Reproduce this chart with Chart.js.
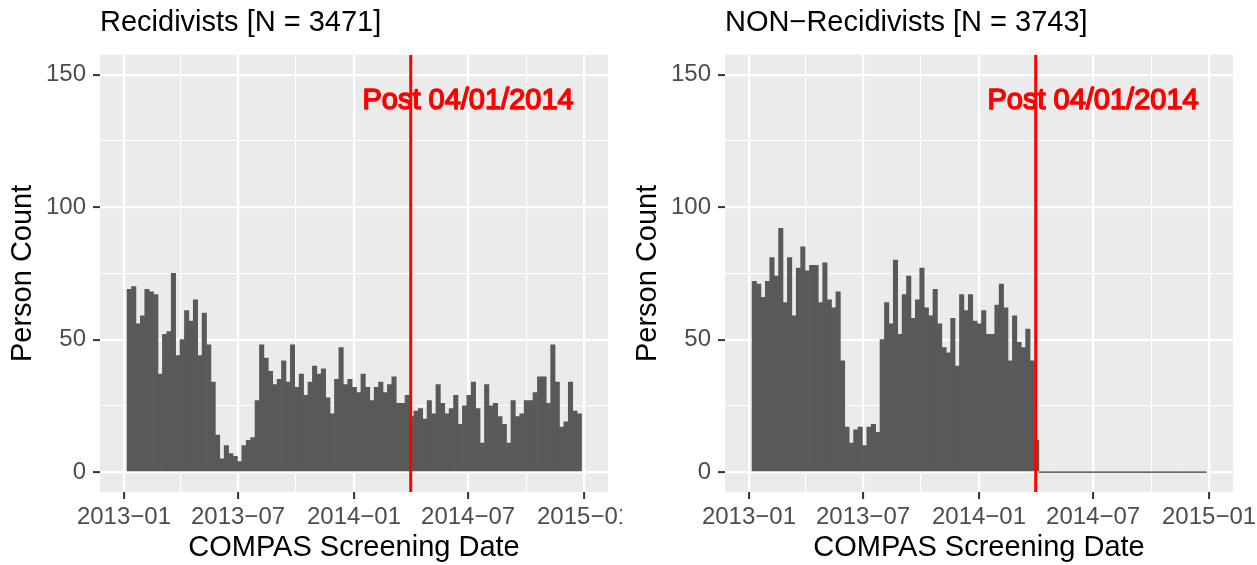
<!DOCTYPE html>
<html>
<head>
<meta charset="utf-8">
<script src="https://cdn.jsdelivr.net/npm/chart.js@4.4.0/dist/chart.umd.min.js"></script>
<style>
  html, body { margin: 0; padding: 0; background: #fff; }
  body { width: 1257px; height: 565px; position: relative; overflow: hidden; }
  .cell { position: absolute; top: 0; height: 565px; }
</style>
</head>
<body>
<div class="cell" style="left:0;width:622px"><canvas id="recidChart"></canvas></div>
<div class="cell" style="left:625px;width:632px"><canvas id="nonRecidChart"></canvas></div>
<script>
// Bins semanales (7 días), días contados desde 2013-01-01
const binStartDay = 5;
const binDays = 7;

// Conteos por semana: reincidentes
const recidCounts = [
  69, 70, 56, 59, 69, 68, 67, 37, 52, 53, 75, 44, 50, 61, 57, 65, 44, 60, 48, 34,
  14, 5, 10, 7, 6, 4, 10, 12, 13, 27, 48, 43, 38, 33, 35, 42, 34, 48, 32, 37,
  29, 34, 40, 37, 39, 28, 22, 35, 47, 33, 35, 32, 30, 37, 32, 27, 32, 34, 30, 33,
  36, 26, 26, 29, 21, 23, 24, 20, 27, 22, 33, 26, 22, 24, 29, 18, 25, 29, 34, 24,
  11, 33, 25, 26, 21, 18, 11, 27, 21, 22, 27, 27, 30, 36, 36, 26, 48, 34, 17, 19,
  34, 23, 22
];

// Conteos por semana: no reincidentes
const nonRecidCounts = [
  72, 71, 66, 72, 81, 74, 92, 64, 81, 59, 77, 85, 76, 78, 78, 64, 79, 65, 62, 68,
  42, 17, 11, 16, 17, 10, 17, 18, 15, 50, 64, 56, 80, 52, 67, 74, 58, 65, 77, 62,
  59, 69, 56, 47, 45, 58, 40, 67, 61, 67, 57, 56, 61, 52, 52, 63, 71, 62, 42, 59,
  49, 47, 54, 42, 12, 0, 0, 0, 0, 0, 0, 0, 0, 0, 0, 0, 0, 0, 0, 0,
  0, 0, 0, 0, 0, 0, 0, 0, 0, 0, 0, 0, 0, 0, 0, 0, 0, 0, 0, 0,
  0, 0, 0
];

// Ejes
const xTickDays = [0, 181, 365, 546, 730];
const xTickLabels = ['2013\u221201', '2013\u221207', '2014\u221201', '2014\u221207', '2015\u221201'];
const xMinorDays = [90, 273, 455, 638];
const yTicks = [0, 50, 100, 150];
const yMinorTicks = [25, 75, 125];

// Fecha de corte (2014-04-01) y su etiqueta
const cutoffDay = 455;
const noteDay = 546;
const noteValue = 140;
const noteText = 'Post 04/01/2014';

const colors = {
  bar: '#595959',
  panel: '#EBEBEB',
  grid: '#FFFFFF',
  tick: '#333333',
  tickLabel: '#4D4D4D',
  cutoff: '#FF0000',
};

Chart.defaults.font.family = "'Liberation Sans', Arial, Helvetica, sans-serif";
Chart.defaults.color = '#000';

const majorX = new Set(xTickDays);
const majorY = new Set(yTicks);
const isMajor = (set, c) => !!(c.tick && set.has(c.tick.value));

// Fondo gris del panel
const panelBackground = {
  id: 'panelBackground',
  beforeDraw(chart) {
    const { ctx, chartArea: a } = chart;
    ctx.save();
    ctx.fillStyle = colors.panel;
    ctx.fillRect(a.left, a.top, a.right - a.left, a.bottom - a.top);
    ctx.restore();
  }
};

// Texto rojo "Post 04/01/2014"
const cutoffNote = {
  id: 'cutoffNote',
  afterDatasetsDraw(chart) {
    const { ctx, scales } = chart;
    const x = scales.x.getPixelForValue(noteDay);
    const y = scales.y.getPixelForValue(noteValue);
    ctx.save();
    ctx.font = "29px 'Liberation Sans', Arial, sans-serif";
    ctx.textAlign = 'center';
    ctx.textBaseline = 'middle';
    ctx.fillStyle = colors.cutoff;
    ctx.strokeStyle = colors.cutoff;
    ctx.lineWidth = 1.5;
    ctx.lineJoin = 'round';
    ctx.fillText(noteText, x, y);
    ctx.strokeText(noteText, x, y);
    ctx.restore();
  }
};

function zeroSegments(counts) {
  const pts = [];
  counts.forEach((c, i) => {
    const s = binStartDay + i * binDays;
    if (c === 0) {
      pts.push({ x: s, y: 0 }, { x: s + binDays, y: 0 });
    } else {
      pts.push({ x: s + binDays / 2, y: null });
    }
  });
  return pts;
}

function createPanel(canvasId, title, counts, rightPad) {
  const ctx = document.getElementById(canvasId);
  return new Chart(ctx, {
    type: 'bar',
    data: {
      datasets: [
        {
          type: 'line',
          data: [{ x: cutoffDay, y: -7.5 }, { x: cutoffDay, y: 157.5 }],
          borderColor: colors.cutoff,
          borderWidth: 3,
          pointRadius: 0,
          order: 0,
        },
        {
          type: 'line',
          data: zeroSegments(counts),
          borderColor: '#555555',
          borderWidth: 1.2,
          pointRadius: 0,
          spanGaps: false,
          order: 1,
        },
        {
          type: 'bar',
          data: counts.map((c, i) => ({ x: binStartDay + i * binDays + binDays / 2, y: c })),
          backgroundColor: colors.bar,
          borderWidth: 0,
          barPercentage: 1,
          categoryPercentage: 1,
          order: 2,
        }
      ]
    },
    options: {
      responsive: true,
      maintainAspectRatio: false,
      animation: false,
      layout: { padding: { left: 0, right: rightPad, top: 0, bottom: 0 } },
      plugins: {
        legend: { display: false },
        tooltip: { enabled: false },
        title: {
          display: true,
          text: title,
          align: 'start',
          fullSize: false,
          color: '#000',
          font: { size: 29, weight: 'normal', lineHeight: 1.2 },
          padding: { top: 6, bottom: 14 },
        }
      },
      scales: {
        x: {
          type: 'linear',
          offset: false,
          min: -38,
          max: 768,
          afterBuildTicks: (scale) => {
            scale.ticks = [...xTickDays, ...xMinorDays].sort((a, b) => a - b).map(v => ({ value: v }));
          },
          afterFit: (scale) => {
            scale.height = 73;
            scale.paddingLeft = 0;
            scale.paddingRight = 0;
          },
          ticks: {
            autoSkip: false,
            maxRotation: 0,
            padding: 4,
            color: colors.tickLabel,
            font: { size: 24 },
            callback: (v) => majorX.has(v) ? xTickLabels[xTickDays.indexOf(v)] : '',
          },
          grid: {
            offset: false,
            color: colors.grid,
            lineWidth: (c) => isMajor(majorX, c) ? 2.2 : 1.1,
            tickColor: (c) => isMajor(majorX, c) ? colors.tick : 'rgba(0,0,0,0)',
            tickWidth: 2,
            tickLength: 7,
          },
          border: { display: false },
          title: {
            display: true,
            text: 'COMPAS Screening Date',
            color: '#000',
            font: { size: 29, lineHeight: 1.2 },
            padding: { top: 0, bottom: 0 },
          }
        },
        y: {
          type: 'linear',
          min: -7.5,
          max: 157.5,
          afterBuildTicks: (scale) => {
            scale.ticks = [...yTicks, ...yMinorTicks].sort((a, b) => a - b).map(v => ({ value: v }));
          },
          afterFit: (scale) => {
            scale.width = 100;
            scale.paddingTop = 0;
            scale.paddingBottom = 0;
          },
          ticks: {
            padding: 7,
            color: colors.tickLabel,
            font: { size: 24 },
            callback: (v) => majorY.has(v) ? String(v) : '',
          },
          grid: {
            color: colors.grid,
            lineWidth: (c) => isMajor(majorY, c) ? 2.2 : 1.1,
            tickColor: (c) => isMajor(majorY, c) ? colors.tick : 'rgba(0,0,0,0)',
            tickWidth: 2,
            tickLength: 7,
          },
          border: { display: false },
          title: {
            display: true,
            text: 'Person Count',
            color: '#000',
            font: { size: 29, lineHeight: 1.2 },
            padding: { top: 6, bottom: 0 },
          }
        }
      }
    },
    plugins: [panelBackground, cutoffNote]
  });
}

createPanel('recidChart', 'Recidivists [N = 3471]', recidCounts, 14);
createPanel('nonRecidChart', 'NON\u2212Recidivists [N = 3743]', nonRecidCounts, 24);
</script>
</body>
</html>
